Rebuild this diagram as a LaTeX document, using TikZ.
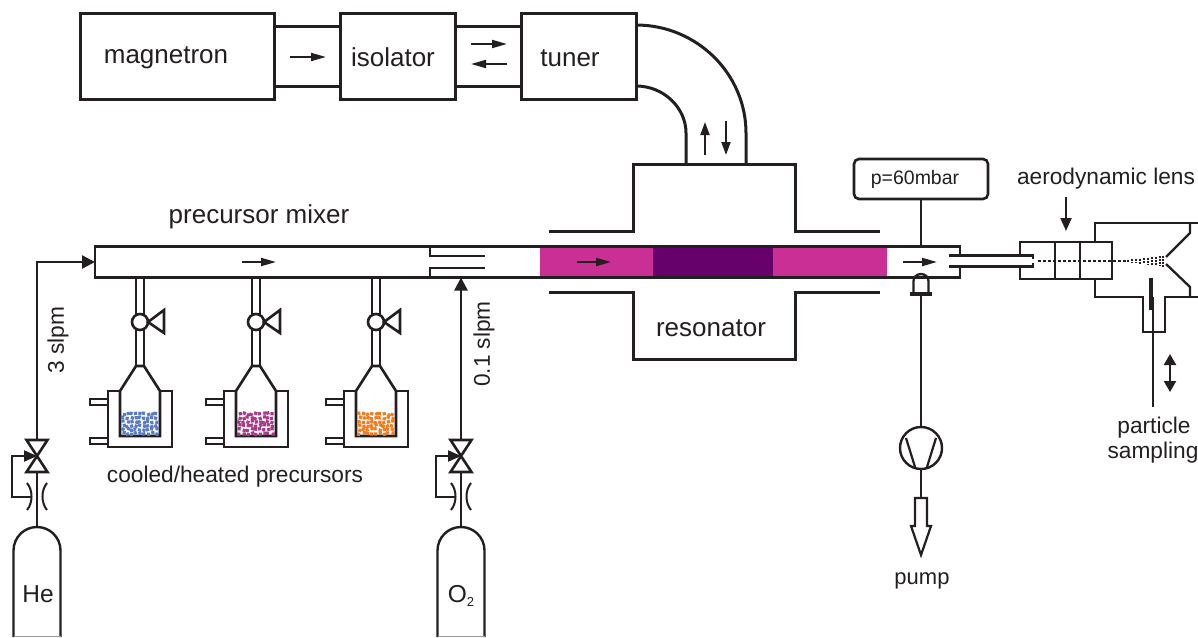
\documentclass[tikz,border=0pt]{standalone}
\usepackage{fontspec}
\setmainfont{Liberation Sans}
\usetikzlibrary{arrows.meta,calc}
\definecolor{ink}{HTML}{231F20}
\definecolor{mag}{HTML}{C92F94}
\definecolor{dmag}{HTML}{66006A}
\definecolor{pblue}{HTML}{5B7CC4}
\definecolor{ppurp}{HTML}{A83A8A}
\definecolor{porange}{HTML}{F07D20}
\tikzset{
  main/.style={draw=ink,line width=2.6pt,line join=miter},
  thin line/.style={draw=ink,line width=2pt},
  box/.style={draw=ink,line width=3pt,rectangle,inner sep=0pt,outer sep=0pt,fill=white},
  lbl/.style={text=ink,inner sep=0pt,font=\fontsize{22.7}{26}\selectfont},
  biglbl/.style={text=ink,inner sep=0pt,font=\fontsize{26}{30}\selectfont},
  flow/.style={thin line,-{Triangle[length=15pt,width=8pt]}},
  vflow/.style={thin line,-{Triangle[length=13pt,width=9pt]}},
  feed/.style={thin line,line width=2.4pt,-{Triangle[length=13pt,width=13pt]}},
  ctrl/.style={thin line,-{Triangle[length=13pt,width=11pt]}},
  pics/gasline/.style={code={
    \coordinate (-top) at (0,440);
    \coordinate (-mid) at (0,456);
    \coordinate (-base) at (0,527);
    \draw[main,fill=white] (-10.5,440) -- (10.5,440) -- (-10.5,472) -- (10.5,472) -- cycle;
    \draw[thin line,line width=2.4pt] (0,472) -- (-base);
    \draw[thin line] (-10,483) .. controls (-4,490) and (-4,503) .. (-10,510);
    \draw[thin line] (10,483) .. controls (4,490) and (4,503) .. (10,510);
    \draw[ctrl] (-5.5,497) -- (-25,497) -- (-25,456) -- (-mid);
    \draw[main,line width=2.4pt] (-23.5,637) -- (-23.5,550.5) arc[start angle=180,end angle=360,radius=23.5] -- (23.5,637);
    \draw[draw=ink!45,line width=1pt] (-23.5,636.5) -- (23.5,636.5);
  }},
  pics/vial/.style n args={1}{code={
    \coordinate (-top) at (0,277);
    \draw[main,line width=2.2pt] (-4,277) -- (-4,366) (4,277) -- (4,366);
    \draw[main,fill=white] (-4,366) -- (-20,391) -- (-20,436) -- (20,436) -- (20,391) -- (4,366) -- cycle;
    \draw[main,line width=2.3pt] (-20,391) -- (-32,391) -- (-32,447) -- (32,447) -- (32,391) -- (20,391);
    \draw[main,line width=2pt] (-32,399) -- (-50,399) -- (-50,405) -- (-32,405);
    \draw[main,line width=2pt] (-32,438) -- (-50,438) -- (-50,444) -- (-32,444);
    \draw[main,fill=white] (0,322) circle[radius=8];
    \draw[main,fill=white] (8,322) -- (24,310) -- (24,333) -- cycle;
    \foreach \i in {0,...,8}{\foreach \j in {0,...,5}{
      \pgfmathsetmacro{\px}{-16.5+\i*4.1+rand*1.0}
      \pgfmathsetmacro{\py}{414+\j*3.9+rand*1.0}
      \pgfmathsetmacro{\pr}{rand*25}
      \fill[#1,rotate around={\pr:(\px,\py)}] (\px-1.6,\py-1.6) rectangle (\px+1.6,\py+1.6);
    }}
  }}
}
\pgfmathsetseed{4217}
\begin{document}
\begin{tikzpicture}[x=1pt,y=-1pt]
\useasboundingbox (0,0) rectangle (1198,637);
% top boxes
\node[box,minimum width=194pt,minimum height=86pt] (magb) at (177,56) {};
\node[biglbl,anchor=base] at (166,63) {magnetron};
\node[box,minimum width=115pt,minimum height=86pt] (iso) at (397.5,56) {};
\node[biglbl,anchor=base] at (393,66) {isolator};
\node[box,minimum width=115pt,minimum height=86pt] (tun) at (578.5,56) {};
\node[biglbl,anchor=base] at (570,66) {tuner};
\draw[main,line width=3pt] ([yshift=-13pt]magb.north east) -- ([yshift=-13pt]iso.north west);
\draw[main,line width=3pt] ([yshift=13pt]magb.south east) -- ([yshift=13pt]iso.south west);
\draw[main,line width=3pt] ([yshift=-13pt]iso.north east) -- ([yshift=-13pt]tun.north west);
\draw[main,line width=3pt] ([yshift=13pt]iso.south east) -- ([yshift=13pt]tun.south west);
\coordinate (mg1) at (290,57); \coordinate (mg2) at (326,57);
\draw[flow] (mg1) -- (mg2);
\coordinate (it1) at (471,44); \coordinate (it2) at (507,44);
\coordinate (it3) at (507,64); \coordinate (it4) at (471,64);
\draw[flow] (it1) -- (it2);
\draw[flow] (it3) -- (it4);
% waveguide
\coordinate (wgo) at (746,163); \coordinate (wgi) at (686,163);
\draw[main,line width=3pt] ([yshift=-12pt]tun.north east) .. controls (697,25) and (746,74) .. (746,133) -- (wgo);
\draw[main,line width=3pt] ([yshift=13pt]tun.south east) .. controls (664,86) and (686,108) .. (686,133) -- (wgi);
\coordinate (u1) at (705,155); \coordinate (u2) at (705,122);
\coordinate (d1) at (726,121); \coordinate (d2) at (726,155);
\draw[vflow] (u1) -- (u2);
\draw[vflow] (d1) -- (d2);
% resonator
\draw[main,line width=3pt] (549,231) -- (633,231) -- (633,164) -- (795,164) -- (795,231) -- (880,231);
\draw[main,line width=3pt] (549,292) -- (633,292) -- (633,359) -- (795,359) -- (795,292) -- (880,292);
\node[biglbl,anchor=base] (rest) at (711,336) {resonator};
% tube
\fill[mag] (540,247) rectangle (653,277);
\fill[dmag] (653,247) rectangle (773,277);
\fill[mag] (773,247) rectangle (887,277);
\node[draw=ink,line width=2.2pt,rectangle,inner sep=0pt,outer sep=0pt,minimum width=865pt,minimum height=31pt] (tube) at (527.5,262) {};
\fill[white] (958,256.5) rectangle (962,264.5);
\draw[main,line width=2.3pt] (430,247) -- (430,256) -- (485,256);
\draw[main,line width=2.3pt] (430,277) -- (430,268) -- (485,268);
\coordinate (f1) at (242,262); \coordinate (f2) at (276,262);
\coordinate (f3) at (577,262); \coordinate (f4) at (611,262);
\coordinate (f5) at (903,262); \coordinate (f6) at (937,262);
\draw[flow] (f1) -- (f2);
\draw[flow] (f3) -- (f4);
\draw[flow] (f5) -- (f6);
\node[biglbl,anchor=base,font=\fontsize{26}{30}\selectfont] at (259,223) {precursor mixer};
% precursor vials
\pic (v1) at (140,0) {vial={pblue}};
\pic (v2) at (256,0) {vial={ppurp}};
\pic (v3) at (376,0) {vial={porange}};
\node[lbl,anchor=base] at (235,482) {cooled/heated precursors};
% gas lines
\pic (he) at (37,0) {gasline};
\pic (ox) at (461,0) {gasline};
\node[biglbl,anchor=base,font=\fontsize{24.5}{28}\selectfont] at (38,602) {He};
\node[biglbl,anchor=base,font=\fontsize{24.5}{28}\selectfont] at (461,602) {O\raisebox{-4pt}{\fontsize{13}{15}\selectfont 2}};
\draw[feed] (he-top) |- (tube.west);
\draw[feed] (ox-top) -- (ox-top |- tube.south);
\node[lbl,rotate=90] at (58,340) {3 slpm};
\node[lbl,rotate=90] at (484,344) {0.1 slpm};
% pressure gauge
\node[main,rectangle,rounded corners=5pt,inner sep=0pt,outer sep=0pt,minimum width=134pt,minimum height=40pt,fill=white] (press) at (921,179) {};
\node[text=ink,inner sep=0pt,font=\fontsize{19.5}{23}\selectfont] at (915,179) {p=60mbar};
\draw[thin line,line width=2.2pt] (press.south) -- (press.south |- tube.north);
% pump line
\draw[main,line width=2.3pt] (913.5,294) -- (913.5,281) arc[start angle=180,end angle=360,x radius=7.5,y radius=7] -- (928.5,294);
\draw[main,line width=3.4pt] (910,294) -- (932,294);
\coordinate (senb) at (921,294);
\node[draw=ink,circle,inner sep=0pt,outer sep=0pt,minimum size=42pt,line width=2.4pt] (pmp) at (921,448) {};
\draw[thin line,line width=2.2pt] (senb) -- (pmp.north);
\draw[thin line,line width=2.2pt] (906,438) -- (915,467);
\draw[thin line,line width=2.2pt] (936,438) -- (927,467);
\coordinate (exh) at (921,498);
\draw[thin line,line width=2.2pt] (pmp.south) -- (exh);
\draw[main,line width=2.2pt,fill=white] (915,498) -- (927,498) -- (927,526) -- (931,526) -- (921,555) -- (911,526) -- (915,526) -- cycle;
\node[lbl,anchor=base,font=\fontsize{22}{26}\selectfont] at (922,584) {pump};
% capillary and lens
\draw[main,line width=2.3pt] (949,255.5) -- (1033,255.5) -- (1033,259);
\draw[main,line width=2.3pt] (949,266.5) -- (1033,266.5) -- (1033,263);
\node[draw=ink,line width=2.4pt,rectangle,inner sep=0pt,outer sep=0pt,minimum width=92pt,minimum height=37pt] (lens) at (1066,260.5) {};
\fill[white] (1018,257) rectangle (1022,265);
\draw[main,line width=2.3pt] (1055,242) -- (1055,279);
\draw[main,line width=2.3pt] (1080,242) -- (1080,279);
\draw[main,line width=2.3pt] (1095,242) -- (1095,223) -- (1198,223);
\draw[main,line width=2.3pt] (1190,223) -- (1190,233) -- (1166,257);
\draw[main,line width=2.3pt] (1166,264) -- (1190,287) -- (1190,297);
\draw[main,line width=2.3pt] (1095,279) -- (1095,297) -- (1143,297) -- (1143,332) -- (1165,332) -- (1165,297) -- (1198,297);
\draw[ink,line width=2.3pt,dash pattern=on 2.5pt off 2.5pt] (1038,261) -- (1126,261);
\foreach \bx/\bh in {1128/3,1132/3.5,1136/4,1140/5,1144/6,1148/7,1152/8,1156/9,1160/10,1163/11}{
  \draw[ink,line width=2.1pt,dash pattern=on 2pt off 1pt] (\bx,261-\bh/2) -- (\bx,261+\bh/2);
}
\draw[ink,line width=4.5pt] (1151,278) -- (1151,310);
\draw[thin line,line width=2.4pt] (1153,297) -- (1153,407);
\node[lbl,anchor=base] (lenslbl) at (1106,184) {aerodynamic lens};
\coordinate (la) at (1066,197); \coordinate (lb) at (1066,231);
\draw[thin line,line width=2.2pt,-{Triangle[length=13pt,width=11pt]}] (la) -- (lb);
\coordinate (s1) at (1170,354); \coordinate (s2) at (1170,392);
\draw[thin line,line width=2.2pt,{Triangle[length=11pt,width=12pt]}-{Triangle[length=11pt,width=12pt]}] (s1) -- (s2);
\node[lbl,anchor=base] at (1154,433) {particle};
\node[lbl,anchor=base] at (1153,458) {sampling};
\end{tikzpicture}
\end{document}
